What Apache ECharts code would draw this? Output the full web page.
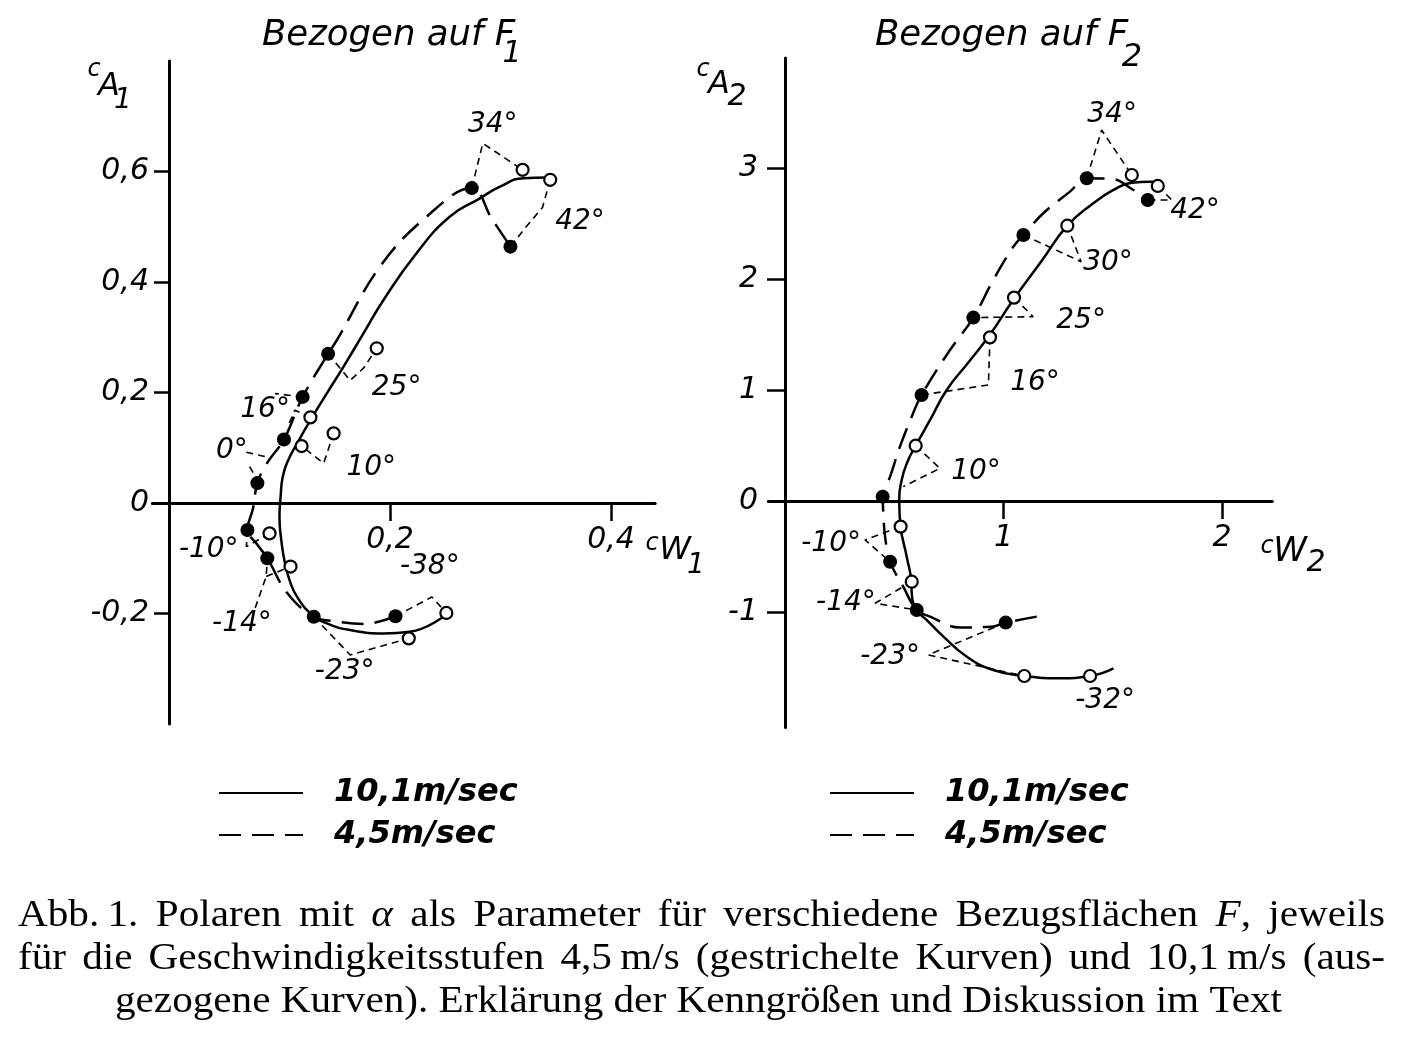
<!DOCTYPE html>
<html><head><meta charset="utf-8">
<script src="https://cdn.jsdelivr.net/npm/echarts@6/dist/echarts.min.js"></script>
<style>html,body{margin:0;padding:0;background:#fff}#c{width:1406px;height:1042px}</style>
</head><body><div id="c"></div>
<script>
// ---------- data: left panel (bezogen auf F1) ----------
const L_X_TICKS = [0.2, 0.4];
const L_Y_TICKS = [-0.2, 0, 0.2, 0.4, 0.6];
const L_solid10 = [[0.250,-0.203],[0.218,-0.233],[0.194,-0.236],[0.164,-0.230],[0.143,-0.218],[0.128,-0.200],[0.116,-0.170],[0.110,-0.145],[0.105,-0.109],[0.102,-0.073],[0.100,-0.025],[0.101,0.011],[0.103,0.048],[0.108,0.078],[0.116,0.108],[0.128,0.150],[0.143,0.199],[0.158,0.247],[0.176,0.307],[0.194,0.367],[0.224,0.452],[0.254,0.518],[0.281,0.551],[0.300,0.573],[0.321,0.588],[0.342,0.589]];
const L_dash45 = [[0.205,-0.205],[0.176,-0.219],[0.150,-0.214],[0.131,-0.206],[0.107,-0.163],[0.089,-0.100],[0.079,-0.073],[0.071,-0.049],[0.076,-0.010],[0.080,0.036],[0.088,0.070],[0.104,0.115],[0.121,0.192],[0.144,0.270],[0.152,0.295],[0.191,0.428],[0.233,0.518],[0.274,0.570],[0.292,0.515],[0.309,0.464]];
const L_filled45 = [[0.205,-0.205],[0.131,-0.206],[0.089,-0.100],[0.071,-0.049],[0.080,0.036],[0.104,0.115],[0.121,0.192],[0.144,0.270],[0.274,0.570],[0.309,0.464]];
const L_open10 = [[0.251,-0.199],[0.217,-0.245],[0.110,-0.115],[0.091,-0.055],[0.120,0.103],[0.149,0.126],[0.128,0.155],[0.188,0.280],[0.320,0.603],[0.345,0.585]];
const L_angles = [['34°',0.293,0.684],['42°',0.372,0.509],['25°',0.206,0.208],['16°',0.087,0.168],['10°',0.183,0.063],['0°',0.057,0.094],['-10°',0.036,-0.085],['-14°',0.066,-0.218],['-23°',0.159,-0.305],['-38°',0.236,-0.115]];
const L_brackets = [
  [[0.274,0.570],[0.284,0.651],[0.320,0.603]],
  [[0.345,0.585],[0.338,0.535],[0.322,0.497],[0.309,0.464]],
  [[0.144,0.270],[0.164,0.222],[0.176,0.244],[0.188,0.280]],
  [[0.121,0.192],[0.096,0.198]],
  [[0.128,0.155],[0.114,0.168],[0.108,0.141]],
  [[0.104,0.115],[0.120,0.103],[0.140,0.072],[0.149,0.126]],
  [[0.070,0.092],[0.091,0.082]],
  [[0.073,0.066],[0.079,0.045]],
  [[0.071,-0.049],[0.070,-0.079],[0.091,-0.055]],
  [[0.078,-0.190],[0.088,-0.133],[0.089,-0.100]],
  [[0.088,-0.133],[0.110,-0.115]],
  [[0.131,-0.206],[0.164,-0.275],[0.217,-0.245]],
  [[0.205,-0.205],[0.238,-0.170],[0.251,-0.199]]
];
// ---------- data: right panel (bezogen auf F2) ----------
const R_X_TICKS = [1, 2];
const R_Y_TICKS = [-1, 0, 1, 2, 3];
const R_solid10 = [[1.503,-1.508],[1.396,-1.577],[1.259,-1.597],[1.095,-1.577],[0.953,-1.523],[0.831,-1.402],[0.725,-1.222],[0.648,-1.072],[0.603,-0.982],[0.580,-0.832],[0.578,-0.727],[0.557,-0.502],[0.529,-0.231],[0.523,-0.021],[0.534,0.189],[0.564,0.369],[0.598,0.498],[0.664,0.730],[0.740,1.000],[0.840,1.250],[0.935,1.490],[1.040,1.800],[1.170,2.150],[1.292,2.480],[1.411,2.682],[1.503,2.802],[1.587,2.868],[1.670,2.877],[1.716,2.877]];
const R_dash45 = [[1.152,-1.042],[1.010,-1.096],[0.953,-1.130],[0.801,-1.140],[0.664,-1.042],[0.603,-0.982],[0.541,-0.772],[0.481,-0.547],[0.458,-0.321],[0.450,-0.111],[0.447,0.039],[0.481,0.219],[0.526,0.489],[0.580,0.760],[0.625,0.955],[0.755,1.360],[0.862,1.652],[0.953,1.991],[1.045,2.291],[1.091,2.396],[1.182,2.592],[1.304,2.787],[1.381,2.907],[1.500,2.900],[1.580,2.820],[1.660,2.712]];
const R_filled45 = [[1.010,-1.096],[0.603,-0.982],[0.481,-0.547],[0.447,0.039],[0.625,0.955],[0.862,1.652],[1.091,2.396],[1.381,2.907],[1.660,2.712]];
const R_open10 = [[1.396,-1.577],[1.095,-1.577],[0.580,-0.727],[0.529,-0.231],[0.598,0.498],[0.938,1.474],[1.048,1.832],[1.292,2.480],[1.587,2.937],[1.706,2.838]];
const R_angles = [['34°',1.497,3.477],['42°',1.876,2.613],['30°',1.478,2.144],['25°',1.355,1.622],['16°',1.144,1.063],['10°',0.874,0.261],['-10°',0.211,-0.387],['-14°',0.279,-0.919],['-23°',0.481,-1.405],['-32°',1.465,-1.802]];
const R_brackets = [
  [[1.381,2.907],[1.449,3.342],[1.587,2.937]],
  [[1.706,2.838],[1.770,2.712],[1.660,2.712]],
  [[1.091,2.396],[1.355,2.156],[1.292,2.480]],
  [[1.048,1.832],[1.136,1.660],[0.862,1.652]],
  [[0.938,1.474],[0.931,1.045],[0.625,0.955]],
  [[0.598,0.498],[0.709,0.294],[0.541,0.129]],
  [[0.529,-0.231],[0.366,-0.351],[0.481,-0.547]],
  [[0.580,-0.727],[0.412,-0.922],[0.603,-0.982]],
  [[1.010,-1.096],[0.656,-1.387],[1.095,-1.577]]
];
const LEGEND_NAMES = ['10,1m/sec', '4,5m/sec'];
const CAPTION_LINES = [
  'Abb.\u20091.  Polaren mit *α* als Parameter für verschiedene Bezugsflächen *F*, jeweils',
  'für die Geschwindigkeitsstufen 4,5\u2009m/s (gestrichelte Kurven) und 10,1\u2009m/s (aus-',
  'gezogene Kurven). Erklärung der Kenngrößen und Diskussion im Text'
];

// ---------- styling / layout ----------
const SANS = '"DejaVu Sans", "Liberation Sans", sans-serif';
const INK = '#000';
const fmt = v => String(v).replace('.', ',');
const GRIDS = [
  { left:152.4, top:61, width:502.8, height:663, xr:[-0.015, 0.44], yr:[-0.4, 0.8] },
  { left:769.7, top:58.1, width:502.6, height:669.3, xr:[-0.07, 2.23], yr:[-2.04, 3.99] }
];
// offset that moves each axis onto the other axis' zero
const xOff = g => -(0 - g.yr[0]) / (g.yr[1] - g.yr[0]) * g.height;
const yOff = g => -(0 - g.xr[0]) / (g.xr[1] - g.xr[0]) * g.width;

function xAxisCfg(gi, ticks) {
  const g = GRIDS[gi];
  return { type:'value', gridIndex:gi, min:g.xr[0], max:g.xr[1], position:'bottom', offset:xOff(g),
    axisLine:{ onZero:false, lineStyle:{ color:INK, width:3 } },
    axisTick:{ customValues:ticks, length:18, lineStyle:{ color:INK, width:2.5 } },
    axisLabel:{ customValues:ticks, margin:22, formatter:fmt, fontSize:30, fontStyle:'italic', fontFamily:SANS, color:INK },
    splitLine:{ show:false } };
}
function yAxisCfg(gi, ticks, margin, tlen) {
  const g = GRIDS[gi];
  return { type:'value', gridIndex:gi, min:g.yr[0], max:g.yr[1], position:'left', offset:yOff(g),
    axisLine:{ show:true, onZero:false, lineStyle:{ color:INK, width:3 } },
    axisTick:{ show:true, customValues:ticks, length:tlen, lineStyle:{ color:INK, width:2.5 } },
    axisLabel:{ show:true, customValues:ticks, margin, formatter:fmt, fontSize:30, fontStyle:'italic', fontFamily:SANS, color:INK },
    splitLine:{ show:false } };
}
function panelSeries(gi, solid, dash, filled, open, angles, brackets) {
  const s = [];
  brackets.forEach((b, i) => s.push({ type:'line', name:'b'+gi+'_'+i, xAxisIndex:gi, yAxisIndex:gi, data:b, symbol:'none', silent:true, z:1,
    lineStyle:{ color:INK, width:1.6, type:[7,5] } }));
  s.push({ type:'line', name:LEGEND_NAMES[0], xAxisIndex:gi, yAxisIndex:gi, data:solid, smooth:0.5, symbol:'none', silent:true, z:2,
    lineStyle:{ color:INK, width:2.5, type:'solid' }, itemStyle:{ color:INK } });
  s.push({ type:'line', name:LEGEND_NAMES[1], xAxisIndex:gi, yAxisIndex:gi, data:dash, smooth:0.4, symbol:'none', silent:true, z:2,
    lineStyle:{ color:INK, width:2.5, type:[22,11] }, itemStyle:{ color:INK } });
  s.push({ type:'scatter', name:'f'+gi, xAxisIndex:gi, yAxisIndex:gi, data:filled, symbol:'circle', symbolSize:14, silent:true, z:4,
    itemStyle:{ color:INK, opacity:1 } });
  s.push({ type:'scatter', name:'o'+gi, xAxisIndex:gi, yAxisIndex:gi, data:open, symbol:'circle', symbolSize:12, silent:true, z:4,
    itemStyle:{ color:'#fff', borderColor:INK, borderWidth:2.2, opacity:1 } });
  s.push({ type:'scatter', name:'a'+gi, xAxisIndex:gi, yAxisIndex:gi, data:angles.map(a => ({ name:a[0], value:[a[1], a[2]] })),
    symbol:'circle', symbolSize:1, silent:true, z:5, itemStyle:{ color:'rgba(0,0,0,0)', opacity:1 },
    label:{ show:true, position:'inside', formatter:p => p.name, fontSize:28, fontStyle:'italic', fontFamily:SANS, color:INK, opacity:1 } });
  return s;
}

function txt(x, y, text, fs, align) {
  return { type:'text', x, y, silent:true, style:{ text, font:'italic ' + fs + 'px ' + SANS, fill:INK, textAlign:align || 'center', textVerticalAlign:'middle' } };
}

function buildCaption() {
  const ctx = document.createElement('canvas').getContext('2d');
  const FS = 37, FAM = '"Liberation Serif", "Times New Roman", serif';
  const f = it => (it ? 'italic ' : '') + FS + 'px ' + FAM;
  const parse = w => w.split('*').map((t, i) => ({ t, it: i % 2 === 1 })).filter(q => q.t);
  const segW = q => { ctx.font = f(q.it); return ctx.measureText(q.t).width; };
  const wordW = w => w.reduce((a, q) => a + segW(q), 0);
  ctx.font = f(false); const spaceW = ctx.measureText(' ').width;
  const lines = CAPTION_LINES.map(l => l.split(' ').filter(Boolean).map(parse));
  const L = 18, R = 1385, L3 = 115, R3 = 1282, Y = [916, 959, 1002];
  const l3 = lines[2];
  const nat3 = l3.reduce((a, w) => a + wordW(w), 0) + spaceW * (l3.length - 1);
  const sc = (R3 - L3) / nat3;
  const els = [];
  lines.forEach((ws, li) => {
    const widths = ws.map(w => wordW(w) * sc);
    const sum = widths.reduce((a, b) => a + b, 0);
    let x, gap;
    if (li < 2) { gap = (R - L - sum) / (ws.length - 1); x = L; }
    else { gap = spaceW * sc; x = (L3 + R3) / 2 - (sum + gap * (ws.length - 1)) / 2; }
    ws.forEach((w, wi) => {
      let xx = x;
      w.forEach(q => {
        els.push({ type:'text', x:xx, y:Y[li], scaleX:sc, silent:true,
          style:{ text:q.t, font:f(q.it), fill:INK, textAlign:'left', textVerticalAlign:'middle' } });
        xx += segW(q) * sc;
      });
      x += widths[wi] + gap;
    });
  });
  return els;
}

const legendCfg = left => ({ left, top:775, orient:'vertical', data:LEGEND_NAMES, itemWidth:84, itemHeight:14, itemGap:6, padding:0,
  selectedMode:false, itemStyle:{ opacity:0, color:'rgba(0,0,0,0)', borderWidth:0 },
  textStyle:{ fontSize:32, fontStyle:'italic', fontWeight:'bold', fontFamily:SANS, color:INK, lineHeight:36, padding:[0,0,0,26] } });

const chart = echarts.init(document.getElementById('c'), null, { renderer:'canvas' });
chart.setOption({
  animation:false,
  backgroundColor:'#fff',
  grid: GRIDS.map(g => ({ left:g.left, top:g.top, width:g.width, height:g.height, outerBoundsMode:'none' })),
  xAxis:[ xAxisCfg(0, L_X_TICKS), xAxisCfg(1, R_X_TICKS) ],
  yAxis:[ yAxisCfg(0, L_Y_TICKS, 20, 15), yAxisCfg(1, R_Y_TICKS, 27, 18) ],
  legend:[ legendCfg(218), legendCfg(829) ],
  series:[].concat(
    panelSeries(0, L_solid10, L_dash45, L_filled45, L_open10, L_angles, L_brackets),
    panelSeries(1, R_solid10, R_dash45, R_filled45, R_open10, R_angles, R_brackets)
  ),
  graphic:[
    txt(262, 36, 'Bezogen auf F', 35.5, 'left'), txt(512, 54, '1', 30),
    txt(875, 36, 'Bezogen auf F', 35.5, 'left'), txt(1132, 58, '2', 32),
    txt(94, 70, 'c', 24), txt(109, 87, 'A', 32), txt(123, 101, '1', 28),
    txt(703, 70, 'c', 24), txt(719, 85, 'A', 32), txt(737, 97, '2', 30),
    txt(652, 544, 'c', 24), txt(675, 551, 'W', 32), txt(696, 566, '1', 28),
    txt(1267, 547, 'c', 24), txt(1290, 552, 'W', 34), txt(1316, 563, '2', 30)
  ].concat(buildCaption())
});
</script></body></html>
